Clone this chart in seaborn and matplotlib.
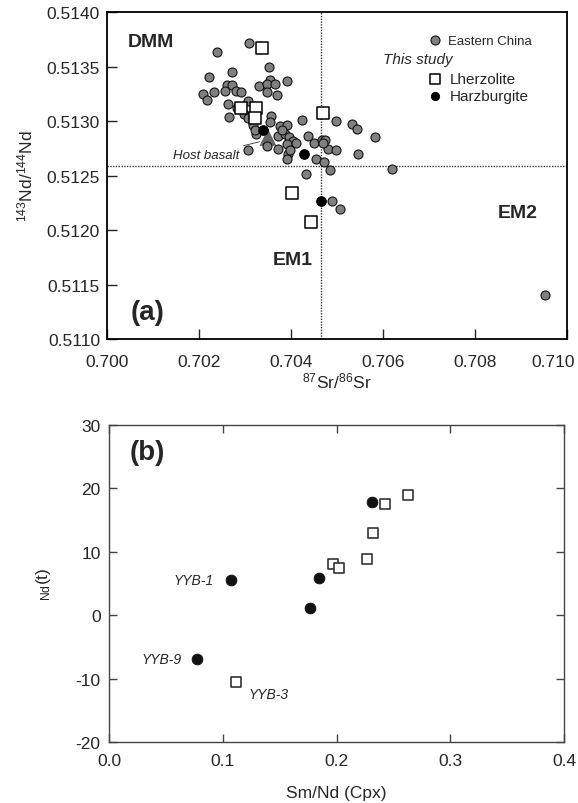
import numpy as np
import pandas as pd
import matplotlib
matplotlib.use('Agg')
import matplotlib.pyplot as plt
import seaborn as sns

# (a) 87Sr/86Sr vs 143Nd/144Nd
china_sr = [0.70308, 0.70239, 0.70352, 0.70271, 0.70222, 0.70392, 0.70354, 0.70261, 0.70272, 0.70330,
            0.70347, 0.70365, 0.70233, 0.70208, 0.70257, 0.70280, 0.70291, 0.70348, 0.70370, 0.70217,
            0.70263, 0.70307, 0.70282, 0.70266, 0.70298, 0.70307, 0.70357, 0.70354, 0.70423, 0.70497,
            0.70532, 0.70544, 0.70582, 0.70318, 0.70376, 0.70391, 0.70325, 0.70372, 0.70387, 0.70396,
            0.70405, 0.70436, 0.70451, 0.70467, 0.70474, 0.70347, 0.70372, 0.70391, 0.70412, 0.70394,
            0.70391, 0.70481, 0.70498, 0.70546, 0.70306, 0.70454, 0.70472, 0.70485, 0.70433, 0.70619,
            0.70489, 0.70506, 0.70952, 0.70322, 0.70380, 0.70398, 0.70470]
china_nd = [0.51372, 0.51363, 0.51350, 0.51345, 0.51340, 0.51337, 0.51338, 0.51333, 0.51333, 0.51332,
            0.51334, 0.51334, 0.51327, 0.51325, 0.51328, 0.51328, 0.51327, 0.51327, 0.51324, 0.51319,
            0.51316, 0.51318, 0.51312, 0.51304, 0.51306, 0.51303, 0.51305, 0.51299, 0.51301, 0.51300,
            0.51297, 0.51293, 0.51285, 0.51296, 0.51295, 0.51296, 0.51288, 0.51286, 0.51288, 0.51285,
            0.51282, 0.51286, 0.51280, 0.51283, 0.51283, 0.51277, 0.51274, 0.51279, 0.51280, 0.51270,
            0.51265, 0.51274, 0.51273, 0.51270, 0.51273, 0.51265, 0.51262, 0.51255, 0.51251, 0.51256,
            0.51227, 0.51219, 0.51140, 0.51292, 0.51292, 0.51273, 0.51280]
lhz_sr = [0.70338, 0.70291, 0.70324, 0.70322, 0.70470, 0.70403, 0.70443]
lhz_nd = [0.51367, 0.51312, 0.51312, 0.51303, 0.51307, 0.51234, 0.51207]
hzb_sr = [0.70340, 0.70428, 0.70465]
hzb_nd = [0.51292, 0.51270, 0.51227]
host_sr = [0.70350]
host_nd = [0.51285]
chur_nd = 0.51259
bse_sr = 0.70465

# (b) Sm/Nd (Cpx) vs eNd(t)
lhz_smnd = [0.112, 0.243, 0.263, 0.232, 0.227, 0.197, 0.202]
lhz_end = [-10.6, 17.5, 18.9, 12.9, 8.8, 8.1, 7.4]
hzb_smnd = [0.107, 0.077, 0.231, 0.185, 0.177]
hzb_end = [5.5, -6.9, 17.9, 5.9, 1.1]

sns.set_style('ticks')
plt.rcParams['font.family'] = ['Liberation Sans', 'DejaVu Sans']
plt.rcParams['mathtext.fontset'] = 'custom'
plt.rcParams['mathtext.rm'] = 'Liberation Sans'
plt.rcParams['mathtext.it'] = 'Liberation Sans:italic'
plt.rcParams['axes.unicode_minus'] = False

fig = plt.figure(figsize=(5.78, 8.04), dpi=100)
ax1 = fig.add_axes([0.1851, 0.5771, 0.7958, 0.4067])
ax2 = fig.add_axes([0.1886, 0.0759, 0.7872, 0.3943])

# ---- panel (a)
ax1.axhline(chur_nd, color='#333333', lw=1.0, ls=(0, (1, 1)), zorder=1)
ax1.axvline(bse_sr, color='#333333', lw=1.0, ls=(0, (1, 1)), zorder=1)
sns.scatterplot(x=host_sr, y=host_nd, ax=ax1, marker='^', s=150, color='#666666',
                edgecolor='none', zorder=2)
sns.scatterplot(x=china_sr, y=china_nd, ax=ax1, s=42, color='#808080', edgecolor='#111111',
                linewidth=0.8, zorder=3)
h_china = ax1.collections[-1]
sns.scatterplot(x=lhz_sr, y=lhz_nd, ax=ax1, marker='s', s=80, color='white', edgecolor='black',
                linewidth=1.1, zorder=4)
h_lhz = ax1.collections[-1]
sns.scatterplot(x=hzb_sr, y=hzb_nd, ax=ax1, s=50, color='black', edgecolor='black', zorder=5)
h_hzb = ax1.collections[-1]

ax1.set_xlim(0.700, 0.710)
ax1.set_ylim(0.5110, 0.5140)
ax1.set_xticks(np.arange(0.700, 0.7101, 0.002))
ax1.set_yticks(np.arange(0.5110, 0.51401, 0.0005))
ax1.xaxis.set_major_formatter(matplotlib.ticker.FormatStrFormatter('%.3f'))
ax1.yaxis.set_major_formatter(matplotlib.ticker.FormatStrFormatter('%.4f'))
ax1.tick_params(axis='x', direction='in', length=7, width=1, labelsize=12.5, pad=11)
ax1.tick_params(axis='y', direction='in', length=7, width=1, labelsize=12.5, pad=5)
for sp in ax1.spines.values():
    sp.set_linewidth(1.3)
    sp.set_color('black')
ax1.set_xlabel('$^{87}$Sr/$^{86}$Sr', fontsize=12.5, labelpad=1)
ax1.set_ylabel('$^{143}$Nd/$^{144}$Nd', fontsize=12.5, labelpad=8)
# last x label would run off the figure: pull it inside like the original
last = ax1.get_xticklabels()[-1]
last.set_horizontalalignment('right')
last.set_x(0.710)
last.set_transform(last.get_transform() + matplotlib.transforms.ScaledTranslation(
    6 / 72, 0, fig.dpi_scale_trans))

ax1.text(0.046, 0.911, 'DMM', transform=ax1.transAxes, fontsize=14, fontweight='bold',
         ha='left', va='center')
ax1.text(0.404, 0.242, 'EM1', transform=ax1.transAxes, fontsize=14, fontweight='bold',
         ha='center', va='center')
ax1.text(0.8935, 0.388, 'EM2', transform=ax1.transAxes, fontsize=14, fontweight='bold',
         ha='center', va='center')
ax1.text(0.052, 0.083, '(a)', transform=ax1.transAxes, fontsize=20, fontweight='bold',
         ha='left', va='center')
ax1.annotate('Host basalt', xy=(host_sr[0] - 0.00018, host_nd[0] - 0.00004),
             xytext=(0.70287, 0.51269), fontsize=9.5, style='italic', ha='right', va='center',
             arrowprops=dict(arrowstyle='-', lw=0.6, color='#333333', shrinkA=1, shrinkB=0))

leg1 = ax1.legend([h_china], ['Eastern China'], loc='upper left', bbox_to_anchor=(0.699, 0.9315),
                  frameon=False, fontsize=9.5, handlelength=1.0, handletextpad=0.5,
                  borderpad=0, borderaxespad=0)
ax1.add_artist(leg1)
ax1.text(0.752, 0.856, 'This study', transform=ax1.transAxes, fontsize=11, style='italic',
         ha='right', va='center')
ax1.legend([h_lhz, h_hzb], ['Lherzolite', 'Harzburgite'], loc='upper left',
           bbox_to_anchor=(0.6965, 0.818), frameon=False, fontsize=11, handlelength=1.0,
           handletextpad=0.45, labelspacing=0.2, borderpad=0, borderaxespad=0,
           markerscale=0.85)

# ---- panel (b)
sns.scatterplot(x=hzb_smnd, y=hzb_end, ax=ax2, s=60, color='#111111', edgecolor='#111111', zorder=3)
sns.scatterplot(x=lhz_smnd, y=lhz_end, ax=ax2, marker='s', s=60, color='white', edgecolor='#333333',
                linewidth=1.2, zorder=4)
ax2.set_xlim(0.0, 0.4)
ax2.set_ylim(-20, 30)
ax2.set_xticks(np.arange(0.0, 0.41, 0.1))
ax2.set_yticks(np.arange(-20, 31, 10))
ax2.xaxis.set_major_formatter(matplotlib.ticker.FormatStrFormatter('%.1f'))
ax2.tick_params(axis='x', direction='in', length=6, width=1, labelsize=12.5, pad=8,
                top=True, color='#444444')
ax2.tick_params(axis='y', direction='in', length=6, width=1, labelsize=12.5, pad=6,
                right=True, color='#444444')
for sp in ax2.spines.values():
    sp.set_linewidth(1.0)
    sp.set_color('#444444')
ax2.set_xlabel('Sm/Nd (Cpx)', fontsize=12.5, labelpad=12)
ax2.set_ylabel('$_{\\rm Nd}$(t)', fontsize=12.5, labelpad=16)
ax2.text(0.046, 0.915, '(b)', transform=ax2.transAxes, fontsize=20, fontweight='bold',
         ha='left', va='center')

ax2.annotate('YYB-1', xy=(hzb_smnd[0], hzb_end[0]), xytext=(-12.5, 0), textcoords='offset points',
             fontsize=10, style='italic', ha='right', va='center')
ax2.annotate('YYB-9', xy=(hzb_smnd[1], hzb_end[1]), xytext=(-10.5, 0), textcoords='offset points',
             fontsize=10, style='italic', ha='right', va='center')
ax2.annotate('YYB-3', xy=(lhz_smnd[0], lhz_end[0]), xytext=(8.6, -8.4), textcoords='offset points',
             fontsize=10, style='italic', ha='left', va='center')

fig.savefig('out.png', dpi=100)
